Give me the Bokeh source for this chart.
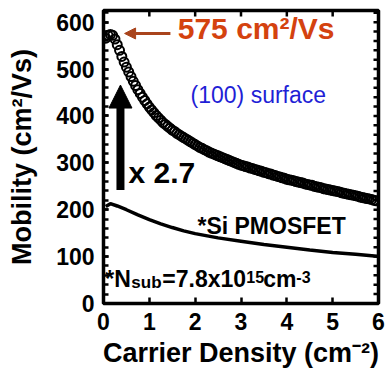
import math
from bokeh.plotting import figure
from bokeh.models import Range1d, SingleIntervalTicker, Arrow, NormalHead, Label, ColumnDataSource
from bokeh.embed import file_html
from bokeh.resources import INLINE

# (100) surface mobility (open circles)
x_100 = [0.05, 0.10, 0.15, 0.20, 0.25, 0.30, 0.35, 0.40, 0.45, 0.50,
         0.55, 0.60, 0.65, 0.70, 0.75, 0.80, 0.85, 0.90, 0.95, 1.00,
         1.05, 1.10, 1.15, 1.20, 1.25, 1.30, 1.35, 1.40, 1.45, 1.50,
         1.55, 1.60, 1.65, 1.70, 1.75, 1.80, 1.85, 1.90, 1.95, 2.00,
         2.05, 2.10, 2.15, 2.20, 2.25, 2.30, 2.35, 2.40, 2.45, 2.50,
         2.55, 2.60, 2.65, 2.70, 2.75, 2.80, 2.85, 2.90, 2.95, 3.00,
         3.05, 3.10, 3.15, 3.20, 3.25, 3.30, 3.35, 3.40, 3.45, 3.50,
         3.55, 3.60, 3.65, 3.70, 3.75, 3.80, 3.85, 3.90, 3.95, 4.00,
         4.05, 4.10, 4.15, 4.20, 4.25, 4.30, 4.35, 4.40, 4.45, 4.50,
         4.55, 4.60, 4.65, 4.70, 4.75, 4.80, 4.85, 4.90, 4.95, 5.00,
         5.05, 5.10, 5.15, 5.20, 5.25, 5.30, 5.35, 5.40, 5.45, 5.50,
         5.55, 5.60, 5.65, 5.70, 5.75, 5.80, 5.85, 5.90, 5.95]
mu_100 = [566, 572, 574, 572, 564, 552, 540, 527, 515, 504,
          494, 484, 474, 465, 456, 448, 440, 433, 426, 419,
          413, 407, 401, 396, 391, 386, 382, 378, 374, 370,
          367, 363, 360, 357, 354, 351, 348, 345, 342, 339,
          336, 333, 331, 328, 326, 323, 321, 319, 317, 315,
          313, 311, 309, 307, 305, 303, 301, 299, 297, 295,
          294, 292, 291, 289, 288, 286, 285, 283, 282, 280,
          279, 277, 276, 274, 273, 271, 270, 268, 267, 265,
          264, 263, 262, 260, 259, 258, 257, 255, 254, 253,
          252, 250, 249, 248, 247, 245, 244, 243, 242, 241,
          240, 239, 238, 236, 235, 234, 233, 232, 231, 230,
          229, 227, 226, 225, 224, 223, 222, 220, 219]

# Si PMOSFET reference (solid line)
x_si = [0.05, 0.15, 0.3, 0.5, 0.75, 1.0, 1.25, 1.5, 1.75, 2.0,
        2.5, 3.0, 3.5, 4.0, 4.5, 5.0, 5.5, 5.97]
mu_si = [207, 213, 208, 200, 189, 179, 170, 162, 155, 149,
         140, 133, 126, 120, 114, 109, 105, 101]

# tick positions
x_ticks = [0, 1, 2, 3, 4, 5, 6]
y_ticks = [0, 100, 200, 300, 400, 500, 600]
y_minor = [20, 40, 60, 80, 120, 140, 160, 180, 220, 240, 260, 280, 320, 340, 360, 380,
           420, 440, 460, 480, 520, 540, 560, 580, 620]

X_MAX, Y_MAX = 6, 625
FONT = "Liberation Sans"

p = figure(width=385, height=370, x_range=Range1d(0, X_MAX), y_range=Range1d(0, Y_MAX),
           output_backend="svg", toolbar_location=None,
           min_border_left=103, min_border_right=7, min_border_top=10, min_border_bottom=65)
p.grid.visible = False
p.outline_line_color = "black"
p.outline_line_width = 3.5
p.background_fill_color = "white"
p.border_fill_color = "white"

xa = p.xaxis[0]
xa.ticker = SingleIntervalTicker(interval=1, num_minor_ticks=0)
xa.major_tick_in = 6
xa.major_tick_out = 0
xa.major_tick_line_width = 2.5
xa.axis_line_color = None
xa.major_label_text_font = FONT
xa.major_label_text_font_style = "bold"
xa.major_label_text_font_size = "23px"
xa.major_label_text_color = "black"
xa.major_label_standoff = 9
xa.axis_label = "Carrier Density (cm\u207b\u00b2)"
xa.axis_label_text_font = FONT
xa.axis_label_text_font_style = "bold"
xa.axis_label_text_font_size = "27px"
xa.axis_label_text_color = "black"
xa.axis_label_standoff = 5

ya = p.yaxis[0]
ya.ticker = SingleIntervalTicker(interval=100, num_minor_ticks=5)
ya.major_tick_in = 5
ya.major_tick_out = 0
ya.minor_tick_in = 5
ya.minor_tick_out = 0
ya.major_tick_line_width = 2.5
ya.minor_tick_line_width = 2.5
ya.axis_line_color = None
ya.major_label_text_font = FONT
ya.major_label_text_font_style = "bold"
ya.major_label_text_font_size = "23px"
ya.major_label_text_color = "black"
ya.major_label_standoff = 9
ya.axis_label = "Mobility (cm\u00b2/Vs)"
ya.axis_label_text_font = FONT
ya.axis_label_text_font_style = "bold"
ya.axis_label_text_font_size = "27px"
ya.axis_label_text_color = "black"
ya.axis_label_standoff = 16

# inward ticks on top and right edges
p.ray(x=x_ticks[1:-1], y=[Y_MAX] * (len(x_ticks) - 2), length=6, length_units="screen",
      angle=-math.pi / 2, line_color="black", line_width=2.5)
p.ray(x=[X_MAX] * (len(y_ticks) + len(y_minor)), y=y_ticks + y_minor, length=5,
      length_units="screen", angle=math.pi, line_color="black", line_width=2.5)

src100 = ColumnDataSource(dict(x=x_100, y=mu_100))
srcsi = ColumnDataSource(dict(x=x_si, y=mu_si))
p.line("x", "y", source=srcsi, line_color="black", line_width=3.5)
p.scatter("x", "y", source=src100, marker="circle", size=9, fill_alpha=0,
          line_color="black", line_width=2.0)

# annotations
brown = "#a9441c"
p.add_layout(Arrow(end=NormalHead(size=11, fill_color=brown, line_color=brown),
                   x_start=1.46, y_start=576, x_end=0.46, y_end=576,
                   line_color=brown, line_width=3))
p.add_layout(Label(x=1.62, y=551, text="575 cm\u00b2/Vs", text_font=FONT,
                   text_font_style="bold", text_font_size="30px", text_color="#d4420f"))
p.add_layout(Label(x=1.9, y=418, text="(100) surface", text_font=FONT,
                   text_font_size="23px", text_color="#1f1fd6"))
p.add_layout(Arrow(end=NormalHead(size=23, fill_color="black", line_color="black"),
                   x_start=0.37, y_start=242, x_end=0.37, y_end=466,
                   line_color="black", line_width=8))
p.add_layout(Label(x=0.545, y=244, text="x 2.7", text_font=FONT,
                   text_font_style="bold", text_font_size="30px", text_color="black"))
p.add_layout(Label(x=2.05, y=138, text="*Si PMOSFET", text_font=FONT,
                   text_font_style="bold", text_font_size="23px", text_color="black"))

# *N_sub = 7.8x10^15 cm^-3 composed of pieces
pieces = [("*N", "23px", 0, 0), ("sub", "17px", 26, 0), ("=7.8x10", "23px", 57, 0),
          ("15", "16px", 141, 9), ("cm", "23px", 158, 0), ("-3", "16px", 191, 9)]
for t, fs, dx, dy in pieces:
    p.add_layout(Label(x=0.04, y=25, x_offset=dx, y_offset=dy, text=t, text_font=FONT,
                       text_font_style="bold", text_font_size=fs, text_color="black"))

open("out.html", "w").write(file_html(p, INLINE))
